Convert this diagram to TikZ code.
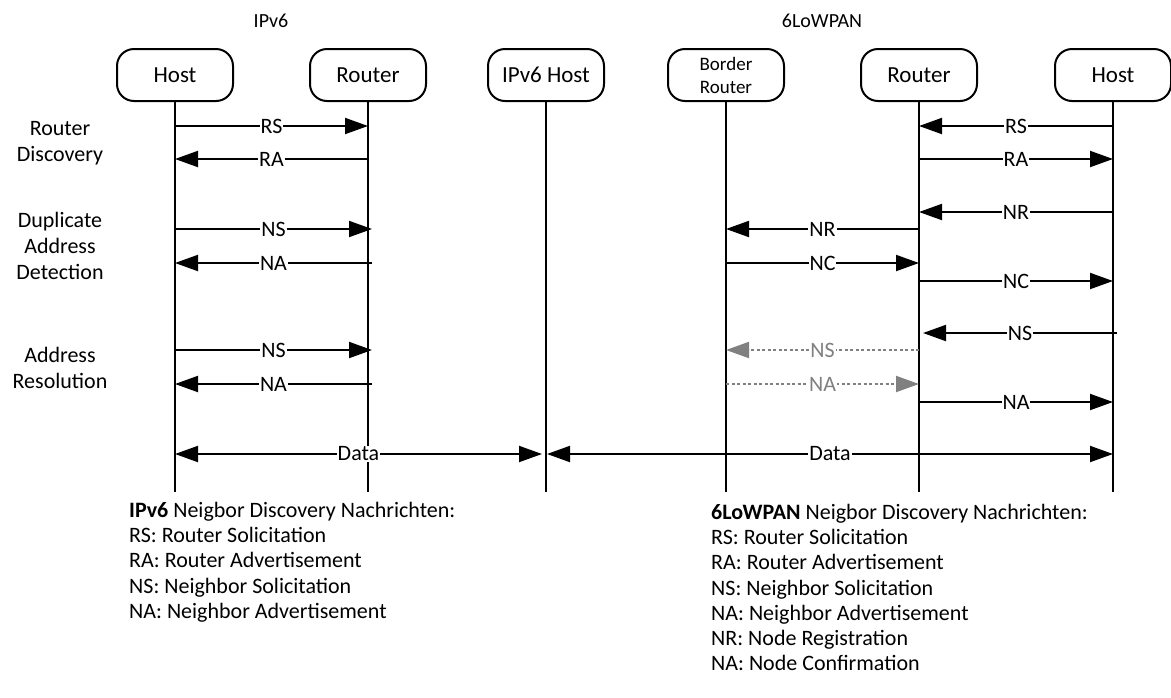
\documentclass[tikz,border=0pt]{standalone}
\usepackage{fontspec}
\setmainfont{Carlito}
\usetikzlibrary{arrows.meta,calc}
\begin{document}
\begin{tikzpicture}[x=1pt,y=-1pt,
  actor/.style={draw,line width=2pt,rounded corners=17pt,minimum width=116pt,
    minimum height=52pt,inner sep=0pt,font=\fontsize{23}{26}\selectfont,align=center},
  life/.style={line width=2.4pt},
  tip/.style={-{Triangle[length=23pt,width=16pt]}},
  msg/.style={line width=2pt,tip},
  ghost/.style={line width=2pt,color=msggray,dash pattern=on 3pt off 2.5pt,tip},
  both/.style={line width=2pt,{Triangle[length=23pt,width=16pt]}-{Triangle[length=23pt,width=16pt]}},
  lbl/.style={fill=white,inner sep=1pt,font=\fontsize{22}{26}\selectfont},
  glbl/.style={lbl,text=msggray},
  phase/.style={align=center,font=\fontsize{22}{26}\selectfont},
  title/.style={font=\fontsize{20}{24}\selectfont},
  legend/.style={anchor=north west,align=left,inner sep=0pt,font=\fontsize{22}{25.2}\selectfont},
]
\definecolor{msggray}{RGB}{128,128,128}
\useasboundingbox (0,0) rectangle (1171,697);

% section titles
\node[title] (tv6) at (271,21) {IPv6};
\node[title] (tlp) at (822,21) {6LoWPAN};

% participants
\node[actor] (h1) at (175,75) {Host};
\node[actor] (r1) at (368,75) {Router};
\node[actor] (ih) at (546,75) {IPv6 Host};
\node[actor,font=\fontsize{19}{23}\selectfont] (br) at (726,75) {Border\\Router};
\node[actor] (r2) at (919,75) {Router};
\node[actor] (h2) at (1113,75) {Host};

% lifelines
\foreach \p in {h1,r1,ih,br,r2,h2}
  \draw[life] (\p.south) -- (\p.south |- 0,492);

% phase labels
\node[phase] (pd) at (60,143) {Router\\Discovery};
\node[phase] (pdad) at (60,246) {Duplicate\\Address\\Detection};
\node[phase] (par) at (60,368) {Address\\Resolution};

% IPv6 neighbor discovery
\draw[msg] (h1 |- 0,126) -- node[lbl]{RS} (r1 |- 0,126);
\draw[msg] (r1 |- 0,159) -- node[lbl]{RA} (h1 |- 0,159);
\draw[msg] (h1 |- 0,229) -- node[lbl]{NS} ($(r1 |- 0,229)+(4,0)$);
\draw[msg] ($(r1 |- 0,263)+(4,0)$) -- node[lbl]{NA} (h1 |- 0,263);
\draw[msg] (h1 |- 0,350) -- node[lbl]{NS} ($(r1 |- 0,350)+(4,0)$);
\draw[msg] ($(r1 |- 0,384)+(4,0)$) -- node[lbl]{NA} (h1 |- 0,384);

% 6LoWPAN neighbor discovery
\draw[msg] (h2 |- 0,126) -- node[lbl]{RS} (r2 |- 0,126);
\draw[msg] (r2 |- 0,159) -- node[lbl]{RA} (h2 |- 0,159);
\draw[msg] (h2 |- 0,212) -- node[lbl]{NR} (r2 |- 0,212);
\draw[msg] (r2 |- 0,229) -- node[lbl]{NR} (br |- 0,229);
\draw[msg] (br |- 0,263) -- node[lbl]{NC} (r2 |- 0,263);
\draw[msg] (r2 |- 0,281) -- node[lbl]{NC} (h2 |- 0,281);
\draw[msg] ($(h2 |- 0,333)+(4,0)$) -- node[lbl]{NS} ($(r2 |- 0,333)+(4,0)$);
\draw[ghost] (r2 |- 0,350) -- node[glbl]{NS} (br |- 0,350);
\draw[ghost] (br |- 0,384) -- node[glbl]{NA} (r2 |- 0,384);
\draw[msg] (r2 |- 0,402) -- node[lbl]{NA} (h2 |- 0,402);

% data exchange
\draw[both] (h1 |- 0,454) -- node[lbl]{Data} ($(ih |- 0,454)+(-4,0)$);
\draw[both] ($(ih |- 0,454)+(1,0)$) -- node[lbl]{Data} (h2 |- 0,454);

% message legends
\node[legend] (lg1) at (129,502) {\textbf{IPv6} Neigbor Discovery Nachrichten:\\
RS: Router Solicitation\\
RA: Router Advertisement\\
NS: Neighbor Solicitation\\
NA: Neighbor Advertisement};
\node[legend] (lg2) at (711,504) {\textbf{6LoWPAN} Neigbor Discovery Nachrichten:\\
RS: Router Solicitation\\
RA: Router Advertisement\\
NS: Neighbor Solicitation\\
NA: Neighbor Advertisement\\
NR: Node Registration\\
NA: Node Confirmation};
\end{tikzpicture}
\end{document}
